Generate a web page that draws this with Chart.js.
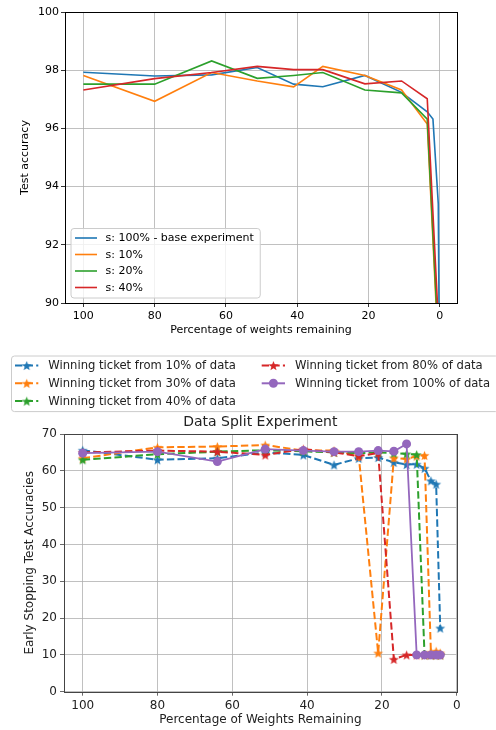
<!DOCTYPE html>
<html>
<head>
<meta charset="utf-8">
<title>Pruning experiments</title>
<script src="https://cdn.jsdelivr.net/npm/chart.js@4.4.1/dist/chart.umd.min.js"></script>
<style>
    body { margin: 0; background: #fff; width: 496px; height: 730px; position: relative; overflow: hidden; }
    canvas { position: absolute; left: 0; }
    #accChart { top: 0; }
    #splitChart { top: 345px; }
</style>
</head>
<body>
<canvas id="accChart" width="496" height="345"></canvas>
<canvas id="splitChart" width="496" height="385"></canvas>
<script>
// ---- top chart: test accuracy vs weights remaining ----
const weightsLeft = [100, 80, 64, 51.2, 41, 32.8, 21, 10.7, 3.5, 1.9, 1.0, 0.9, 0.6, 0.4, 0.2];
const accBase = [97.93, 97.80, 97.84, 98.09, 97.52, 97.43, 97.82, 97.24, 96.57, 96.32, null, null, null, 93.4, 89.9];
const accS10  = [97.82, 96.93, 97.92, 97.63, 97.43, 98.13, 97.82, 97.32, 96.15, null, 89.9, null, null, null, null];
const accS20  = [97.52, 97.52, 98.32, 97.72, 97.82, 97.92, 97.32, 97.22, 96.32, null, null, 89.9, null, null, null];
const accS40  = [97.32, 97.71, 97.92, 98.13, 98.02, 98.02, 97.53, 97.63, 97.02, null, null, null, 89.9, null, null];
const accLabels = ['s: 100% - base experiment', 's: 10%', 's: 20%', 's: 40%'];
const accTicksX = [100, 80, 60, 40, 20, 0];

// ---- bottom chart: data split experiment ----
const pruneLevels = [100, 80, 64, 51.2, 41, 32.8, 26.2, 21, 16.8, 13.4, 10.7, 8.6, 6.9, 5.5, 4.4];
const ticket10  = [65.6, 63.0, 63.4, 65.0, 64.3, 61.6, 63.4, 63.6, 62.3, 61.7, 61.8, 60.7, 57.3, 56.4, 17.3];
const ticket30  = [63.4, 66.4, 66.6, 67.0, 65.5, 65.5, 64.1, 10.5, 63.5, 63.2, 64.0, 64.2, 10.7, 11.0, 10.5];
const ticket40  = [63.0, 64.5, 65.2, 65.6, 65.3, 65.0, 64.8, 65.0, 64.8, 64.6, 64.4, 10.0, 10.0, 10.0, 10.0];
const ticket80  = [65.0, 65.5, 65.2, 64.3, 65.9, 65.0, 64.0, 64.8, 8.8, 10.0, 10.0, 10.0, 10.0, 10.0, 10.0];
const ticket100 = [64.8, 65.2, 62.5, 65.9, 65.5, 65.2, 65.2, 65.5, 65.3, 67.3, 10.0, 10.0, 10.0, 10.0, 10.0];
const ticketLabels = ['Winning ticket from 10% of data', 'Winning ticket from 30% of data',
    'Winning ticket from 40% of data', 'Winning ticket from 80% of data', 'Winning ticket from 100% of data'];
const splitTicksX = [100, 80, 60, 40, 20, 0];

const colors = ['#1f77b4', '#ff7f0e', '#2ca02c', '#d62728', '#9467bd'];
Chart.defaults.font.family = "'DejaVu Sans', sans-serif";

const toPoints = (xs, ys) => xs.map((x, i) => ({ x: x, y: ys[i] })).filter(p => p.y !== null);

// filled 5 point star, like matplotlib '*'
function starImage(color, r) {
    const c = document.createElement('canvas');
    const s = Math.ceil(r * 2 + 2);
    c.width = s; c.height = s;
    const g = c.getContext('2d');
    g.beginPath();
    for (let i = 0; i < 10; i++) {
        const rad = i % 2 ? r * 0.42 : r;
        const a = -Math.PI / 2 + i * Math.PI / 5;
        g.lineTo(s / 2 + rad * Math.cos(a), s / 2 + 0.6 + rad * Math.sin(a));
    }
    g.closePath();
    g.fillStyle = color;
    g.fill();
    return c;
}
const stars = colors.map(c => starImage(c, 5.2));

// axes box on all four sides
const frame = {
    id: 'frame',
    afterDatasetsDraw(chart, args, opts) {
        const { ctx, chartArea: a } = chart;
        ctx.save();
        ctx.strokeStyle = opts.color;
        ctx.lineWidth = 1;
        ctx.strokeRect(Math.round(a.left) + 0.5, Math.round(a.top) + 0.5,
            Math.round(a.right - a.left), Math.round(a.bottom - a.top));
        ctx.restore();
    }
};

function legendBox(ctx, x, y, w, h) {
    ctx.save();
    ctx.beginPath();
    ctx.roundRect(x + 0.5, y + 0.5, w, h, 3);
    ctx.fillStyle = 'rgba(255,255,255,0.8)';
    ctx.fill();
    ctx.strokeStyle = '#cccccc';
    ctx.lineWidth = 1;
    ctx.stroke();
    ctx.restore();
}

// legend in the lower left corner of the top chart
const accLegend = {
    id: 'accLegend',
    afterDraw(chart) {
        const ctx = chart.ctx;
        const a = chart.chartArea;
        ctx.save();
        ctx.font = "11px 'DejaVu Sans'";
        const textW = Math.max(...accLabels.map(t => ctx.measureText(t).width));
        const rowH = 16.5, pad = 10;
        const h = pad * 2 + rowH * 3;
        const x = a.left + 5.5, y = a.bottom - 5.5 - h;
        legendBox(ctx, x, y, 35 + textW + 6, h);
        accLabels.forEach((label, i) => {
            const cy = y + pad + i * rowH;
            ctx.strokeStyle = colors[i];
            ctx.lineWidth = 1.6;
            ctx.beginPath();
            ctx.moveTo(x + 4.5, cy);
            ctx.lineTo(x + 26.5, cy);
            ctx.stroke();
            ctx.fillStyle = '#000';
            ctx.textBaseline = 'middle';
            ctx.fillText(label, x + 35, cy + 0.5);
        });
        ctx.restore();
    }
};

// two column legend above the bottom chart
const splitLegend = {
    id: 'splitLegend',
    afterDraw(chart) {
        const ctx = chart.ctx;
        const x = 11, y = 10.5, rowH = 17.8, pad = 10;
        legendBox(ctx, x, y, 487, pad * 2 + rowH * 2);
        const slots = [[0, 0], [0, 1], [0, 2], [1, 0], [1, 1]];
        ctx.save();
        ctx.font = "11.6px 'DejaVu Sans'";
        ticketLabels.forEach((label, i) => {
            const col = slots[i][0], row = slots[i][1];
            const hx = x + 4 + col * 246.7;
            const cy = y + pad + row * rowH;
            ctx.strokeStyle = colors[i];
            ctx.lineWidth = 2;
            ctx.setLineDash(i === 4 ? [] : [7.4, 3.2]);
            ctx.beginPath();
            ctx.moveTo(hx, cy);
            ctx.lineTo(hx + 23.3, cy);
            ctx.stroke();
            ctx.setLineDash([]);
            if (i === 4) {
                ctx.fillStyle = colors[i];
                ctx.beginPath();
                ctx.arc(hx + 11.7, cy, 4.5, 0, Math.PI * 2);
                ctx.fill();
            } else {
                ctx.drawImage(stars[i], hx + 11.7 - stars[i].width / 2, cy - stars[i].height / 2);
            }
            ctx.fillStyle = '#222';
            ctx.textBaseline = 'middle';
            ctx.fillText(label, hx + 33.3, cy + 0.5);
        });
        ctx.restore();
    }
};

const accSeries = [accBase, accS10, accS20, accS40];
new Chart(document.getElementById('accChart'), {
    type: 'line',
    data: {
        datasets: accSeries.map((ys, i) => ({
            label: accLabels[i],
            data: toPoints(weightsLeft, ys),
            borderColor: colors[i],
            borderWidth: 1.6,
            pointRadius: 0,
            tension: 0,
            fill: false,
            order: accSeries.length - i
        }))
    },
    options: {
        responsive: false,
        animation: false,
        events: [],
        layout: { padding: { left: 0, right: 39, top: 12, bottom: 0 } },
        plugins: { legend: { display: false }, tooltip: { enabled: false }, frame: { color: '#000' } },
        scales: {
            x: {
                type: 'linear',
                reverse: true,
                min: -4.85,
                max: 105.15,
                afterBuildTicks: s => { s.ticks = accTicksX.map(v => ({ value: v })); },
                afterFit: s => { s.height = 42; },
                grid: { color: '#b0b0b0', lineWidth: 0.8, tickLength: 4, tickColor: '#000' },
                border: { display: false },
                ticks: { color: '#000', font: { size: 11 }, padding: 3, maxRotation: 0, autoSkip: false },
                title: { display: true, text: 'Percentage of weights remaining', color: '#000',
                    font: { size: 11 }, padding: { top: 0, bottom: 8.4 } }
            },
            y: {
                min: 90,
                max: 100,
                afterFit: s => { s.width = 65; },
                grid: { color: '#b0b0b0', lineWidth: 0.8, tickLength: 4, tickColor: '#000' },
                border: { display: false },
                ticks: { stepSize: 2, color: '#000', font: { size: 11 }, padding: 2 },
                title: { display: true, text: 'Test accuracy', color: '#000',
                    font: { size: 11 }, padding: { top: 18.4, bottom: 0 } }
            }
        }
    },
    plugins: [frame, accLegend]
});

const splitSeries = [ticket10, ticket30, ticket40, ticket80, ticket100];
new Chart(document.getElementById('splitChart'), {
    type: 'line',
    data: {
        datasets: splitSeries.map((ys, i) => ({
            label: ticketLabels[i],
            data: toPoints(pruneLevels, ys),
            borderColor: colors[i],
            backgroundColor: colors[i],
            borderWidth: i === 4 ? 1.8 : 2,
            borderDash: i === 4 ? [] : [7.4, 3.2],
            pointStyle: i === 4 ? 'circle' : stars[i],
            pointRadius: i === 4 ? 4.5 : 5,
            pointBorderWidth: 0,
            pointBackgroundColor: colors[i],
            tension: 0,
            fill: false,
            order: splitSeries.length - i
        }))
    },
    options: {
        responsive: false,
        animation: false,
        events: [],
        layout: { padding: { left: 0, right: 39.3, top: 68, bottom: 0 } },
        plugins: {
            legend: { display: false },
            tooltip: { enabled: false },
            frame: { color: '#444' },
            title: {
                display: true,
                text: 'Data Split Experiment',
                fullSize: false,
                color: '#222',
                font: { size: 14, weight: 'normal' },
                padding: { top: 1, bottom: 3.2 }
            }
        },
        scales: {
            x: {
                type: 'linear',
                reverse: true,
                min: 0,
                max: 105,
                afterBuildTicks: s => { s.ticks = splitTicksX.map(v => ({ value: v })); },
                afterFit: s => { s.height = 38.3; },
                grid: { color: '#b0b0b0', lineWidth: 0.8, tickLength: 4, tickColor: '#444' },
                border: { display: false },
                ticks: { color: '#222', font: { size: 12 }, padding: 3, maxRotation: 0, autoSkip: false },
                title: { display: true, text: 'Percentage of Weights Remaining', color: '#222',
                    font: { size: 12 }, padding: { top: 0, bottom: 2.8 } }
            },
            y: {
                min: 0,
                max: 70,
                afterFit: s => { s.width = 64; },
                grid: { color: '#b0b0b0', lineWidth: 0.8, tickLength: 4, tickColor: '#444' },
                border: { display: false },
                ticks: { stepSize: 10, color: '#222', font: { size: 12 }, padding: 3 },
                title: { display: true, text: 'Early Stopping Test Accuracies', color: '#222',
                    font: { size: 12 }, padding: { top: 22.8, bottom: 0 } }
            }
        }
    },
    plugins: [frame, splitLegend]
});
</script>
</body>
</html>
